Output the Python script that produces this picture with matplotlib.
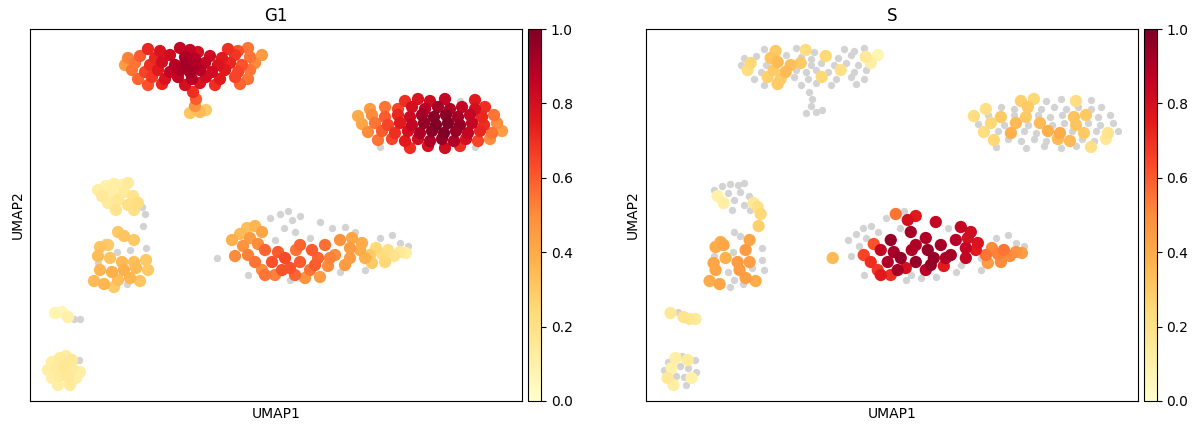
import numpy as np
import matplotlib
matplotlib.use("Agg")
import matplotlib.pyplot as plt

# Each cell: (UMAP1, UMAP2, G1 score, S score); negative scores are drawn grey
cluster_a = [
    (118, 352, .72, -.1), (130, 350, .78, .30), (150, 353, .85, -.1), (160, 351, .85, .22),
    (168, 349, .80, -.2), (198, 352, .70, -.1), (208, 350, .62, -.1), (218, 353, .55, -.1),
    (98, 343, .52, -.1), (110, 345, .60, -.2), (125, 343, .72, .32), (140, 346, .82, -.1),
    (155, 344, .90, -.1), (165, 342, .88, -.2), (180, 345, .82, .25), (192, 343, .75, -.1),
    (205, 346, .68, -.1), (220, 344, .55, .15), (232, 346, .45, .08),
    (95, 336, .45, -.1), (105, 338, .55, .25), (120, 336, .70, -.1), (132, 339, .80, .35),
    (145, 336, .88, .33), (155, 338, .92, .30), (165, 336, .90, -.1), (175, 338, .85, -.2),
    (188, 336, .78, -.1), (200, 338, .72, -.1), (212, 336, .62, -.1), (225, 338, .50, .12),
    (102, 331, .55, .22), (115, 329, .65, -.1), (128, 331, .75, .30), (140, 329, .85, .35),
    (150, 331, .90, -.1), (160, 329, .92, -.2), (170, 331, .88, -.1), (182, 329, .82, -.1),
    (195, 331, .75, .20), (208, 329, .65, -.1), (220, 331, .55, -.1),
    (108, 322, .58, -.1), (122, 324, .68, .28), (135, 322, .78, .30), (148, 324, .85, -.1),
    (162, 322, .88, -.2), (176, 324, .82, .25), (190, 322, .75, -.1), (205, 324, .65, -.1),
    (218, 322, .55, -.1),
    (118, 316, .62, -.1), (132, 317, .72, .30), (155, 316, .80, -.1), (170, 318, .78, -.1),
    (185, 316, .70, -.1), (210, 317, .58, -.1),
    (163, 309, .70, -.1), (166, 302, .60, -.2), (165, 295, .48, -.1), (160, 288, .32, -.1),
    (170, 289, .35, -.1), (176, 291, .30, -.1),
]

cluster_b = [
    (375, 300, .70, .28), (388, 302, .78, .25), (400, 300, .82, -.1), (415, 302, .85, -.1),
    (430, 300, -.05, .22), (445, 301, .75, -.1),
    (340, 292, .45, .20), (355, 294, .55, -.1), (368, 292, .65, -.2), (382, 294, .80, .30),
    (395, 292, .88, -.1), (408, 294, .92, -.1), (420, 292, .90, -.2), (432, 294, .85, -.1),
    (445, 292, .80, -.1), (455, 294, .70, -.1),
    (328, 285, .40, .22), (342, 286, .50, -.1), (355, 284, .60, .30), (368, 286, .72, -.1),
    (380, 284, .82, .30), (392, 286, .92, -.1), (404, 284, .98, -.2), (416, 286, .98, -.1),
    (428, 284, .92, .32), (440, 286, .85, .30), (452, 284, .72, -.1), (464, 286, .55, -.1),
    (332, 277, .42, -.1), (345, 278, .55, .25), (358, 276, .65, -.2), (370, 278, .75, .35),
    (382, 276, .85, -.1), (394, 278, .95, .35), (406, 276, 1.0, -.1), (418, 278, 1.0, -.2),
    (430, 276, .95, .32), (442, 278, .85, -.1), (454, 276, .70, -.1), (467, 278, .50, -.1),
    (338, 269, .50, .22), (352, 270, .60, -.1), (365, 268, .70, .38), (378, 270, .80, -.1),
    (390, 268, .90, -.2), (402, 270, .98, .38), (414, 268, 1.0, .40), (426, 270, .95, -.1),
    (438, 268, .85, .30), (450, 270, .72, -.1), (462, 268, .55, .18), (472, 270, .45, -.1),
    (348, 261, .55, .25), (362, 262, .65, -.1), (375, 260, .75, -.2), (388, 262, .82, -.1),
    (400, 260, .90, -.1), (412, 262, .95, .35), (424, 260, .90, .35), (436, 262, .80, -.1),
    (448, 260, .65, -.1), (460, 262, .50, .15),
    (350, 254, -.05, -.1), (380, 253, .70, -.1), (398, 255, .80, -.2), (415, 253, .82, -.1),
    (430, 255, .70, -.1), (445, 254, -.05, .20),
]

cluster_c = [
    (202, 161, .38, -.1), (210, 167, .35, -.1), (217, 173, .33, -.1), (225, 175, .36, -.1),
    (232, 169, .42, -.1), (220, 163, .45, -.1), (213, 155, .48, -.1), (228, 157, .50, .62),
    (205, 145, .50, -.1), (218, 146, .52, .65), (187, 143, -.1, .35), (235, 151, .58, .85),
    (225, 139, .55, .70), (232, 131, .50, .68), (242, 139, .62, .90), (248, 149, .60, .92),
    (255, 143, .64, .95), (260, 133, .62, .80), (245, 126, .52, .70), (270, 139, .60, .95),
    (266, 151, .55, .90), (280, 131, .55, .88), (275, 123, .48, -.1), (288, 143, .58, .95),
    (295, 156, .56, .92), (298, 135, .50, .75), (290, 124, .45, -.1), (305, 146, .50, .92),
    (310, 161, .48, .88), (315, 136, .45, -.1), (320, 153, .45, .85), (322, 163, .42, .80),
    (330, 151, .40, .75), (335, 143, .38, -.1), (332, 158, .40, .78), (340, 146, .30, .55),
    (346, 153, .25, .50), (352, 147, .22, .52), (358, 151, .20, .55), (364, 145, .18, .50),
    (370, 149, .15, .48), (376, 148, .12, .45), (355, 139, .25, .50), (342, 138, .30, .45),
    (235, 126, .55, .75), (252, 131, .62, .92), (265, 126, .58, -.1), (285, 136, .60, .95),
    (270, 156, .58, .90), (300, 143, .52, .90), (282, 151, .60, .95), (320, 143, .45, .85),
    (240, 183, -.1, -.1), (250, 187, -.1, .55), (258, 190, -.1, -.1), (262, 181, -.1, .80),
    (270, 185, -.1, .75), (254, 173, -.1, -.1), (265, 169, -.1, .92), (245, 161, -.1, .95),
    (280, 163, -.1, .90), (290, 179, -.1, .85), (302, 173, -.1, -.1), (315, 174, -.1, .85),
    (325, 169, -.1, .82), (310, 129, -.1, -.1), (260, 121, -.1, -.1), (350, 163, -.1, -.1),
    (362, 166, -.1, -.1), (370, 158, -.1, -.1), (378, 155, -.1, -.1), (335, 131, -.1, -.1),
    (218, 126, -.1, -.1),
]

cluster_d = [
    (68, 211, .12, -.1), (76, 215, .10, -.1), (84, 217, .12, -.1), (92, 216, .10, -.1),
    (98, 218, .14, -.1), (72, 205, .15, .10), (82, 208, .12, -.1), (94, 209, .14, -.1),
    (103, 205, .18, -.1), (78, 198, .14, .12), (88, 201, .16, -.1), (98, 196, .20, -.1),
    (108, 198, .22, .15), (86, 191, .18, -.1), (104, 191, .20, -.1), (112, 194, -.1, .20),
    (115, 187, -.1, .25), (113, 175, -.1, .28),
]

cluster_e = [
    (88, 169, .30, -.1), (94, 165, .32, -.1), (104, 161, .30, .42), (70, 154, .32, .40),
    (78, 156, .30, .42), (68, 145, .34, -.1), (80, 143, .32, .38), (92, 139, .35, .45),
    (104, 139, .33, .44), (116, 141, .30, -.1), (70, 131, .36, .42), (82, 129, .38, -.1),
    (94, 131, .38, .45), (106, 133, .35, -.1), (118, 131, .30, -.1), (64, 120, .35, .40),
    (74, 117, .36, .42), (88, 121, .34, -.1), (100, 123, .36, .44), (110, 120, .32, .40),
    (84, 114, .30, -.1), (75, 159, -.1, .40), (87, 149, -.1, -.1), (100, 151, -.1, .45),
    (97, 117, -.1, -.1), (116, 153, -.1, -.1), (68, 138, -.1, .42),
]

cluster_f = [
    (25, 88, .08, .15), (32, 89, .06, -.1), (38, 84, .10, .18), (44, 82, -.1, .16),
    (50, 82, -.1, .14),
]

cluster_g = [
    (22, 39, .12, -.1), (30, 43, .14, .12), (36, 45, .12, -.1), (42, 41, .15, .14),
    (18, 31, .12, -.1), (26, 33, .14, .10), (34, 35, .16, -.1), (42, 33, .14, -.1),
    (50, 29, .12, -.1), (22, 23, .12, .15), (30, 25, .14, -.1), (38, 24, .15, -.1),
    (46, 23, .12, .10), (28, 16, .12, .12), (40, 16, .14, -.1), (49, 41, -.1, -.1),
]

panel_titles = ["G1", "S"]
cbar_ticks = [0.0, 0.2, 0.4, 0.6, 0.8, 1.0]

cells = np.array(cluster_a + cluster_b + cluster_c + cluster_d + cluster_e + cluster_f + cluster_g)
umap1, umap2 = cells[:, 0], cells[:, 1]
scores = {"G1": cells[:, 2], "S": cells[:, 3]}

W, H = 1197, 430
fig = plt.figure(figsize=(W / 100, H / 100), dpi=100)
ax_rects = [(30, 492), (645.5, 492.5)]
cax_x = [528, 1143.5]
bottom, height = 29, 372

for (x0, w), cx, title in zip(ax_rects, cax_x, panel_titles):
    ax = fig.add_axes([x0 / W, bottom / H, w / W, height / H])
    cax = fig.add_axes([cx / W, bottom / H, 13 / W, height / H])
    val = scores[title]
    neg = val < 0
    ax.scatter(umap1[neg], umap2[neg], s=28, c="lightgray", linewidths=0)
    pos = np.where(~neg)[0]
    order = pos[np.argsort(val[pos])]
    sc = ax.scatter(umap1[order], umap2[order], s=78, c=val[order], cmap="YlOrRd",
                    vmin=0, vmax=1, linewidths=0)
    ax.set_xlim(0, 492)
    ax.set_ylim(0, 372)
    ax.set_xticks([])
    ax.set_yticks([])
    ax.set_xlabel("UMAP1", fontsize=10)
    ax.set_ylabel("UMAP2", fontsize=10)
    ax.set_title(title, fontsize=12)
    cb = fig.colorbar(sc, cax=cax)
    cb.set_ticks(cbar_ticks)
    cb.ax.tick_params(labelsize=10)

fig.savefig("out.png", dpi=100)
